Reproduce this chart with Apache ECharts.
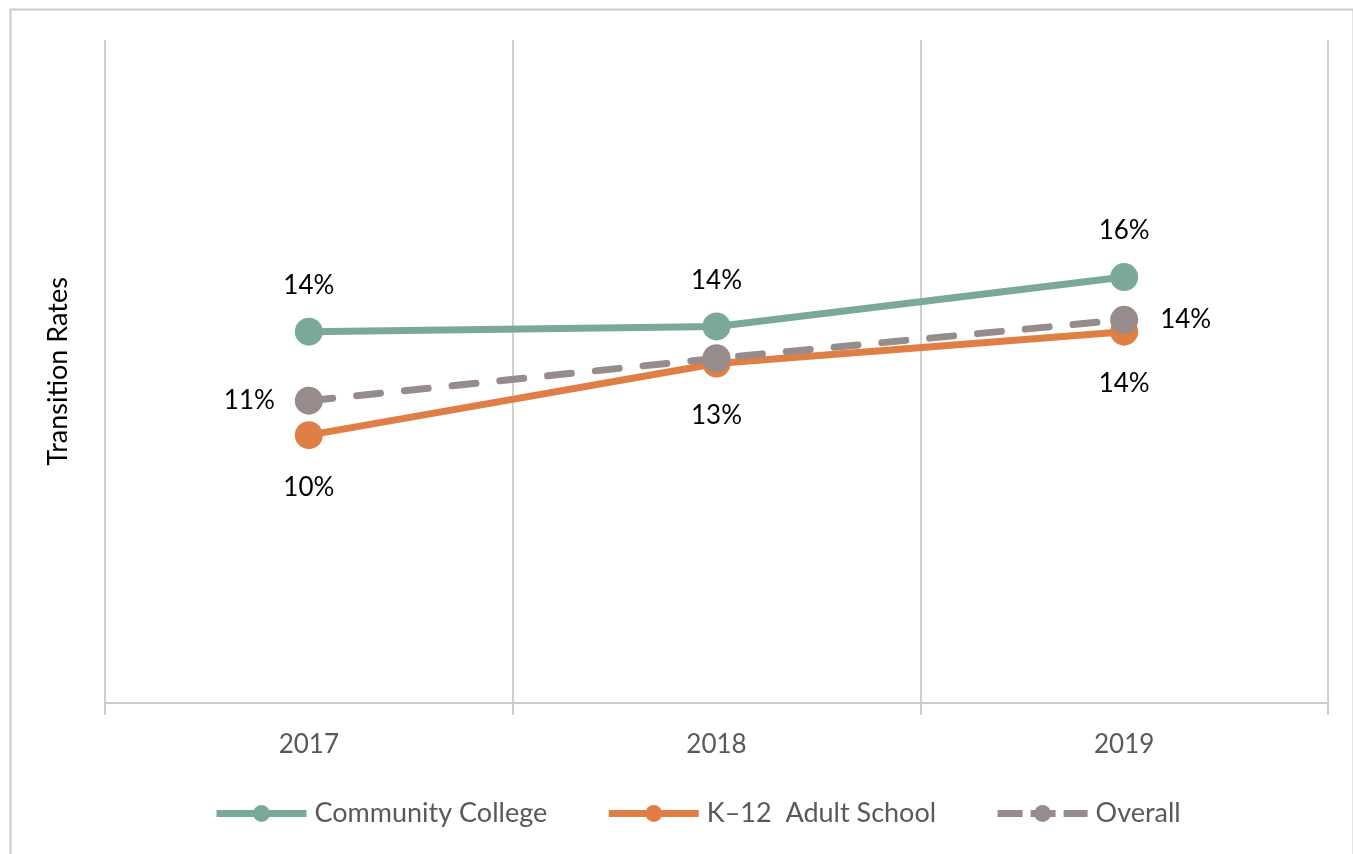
<!DOCTYPE html>
<html>
<head>
<meta charset="utf-8">
<script src="https://cdn.jsdelivr.net/npm/echarts@6/dist/echarts.min.js"></script>
<style>
html,body{margin:0;padding:0;background:#fff;}
#chart{width:1353px;height:854px;}
</style>
</head>
<body>
<div id="chart"></div>
<script>
const categories = ['2017', '2018', '2019'];
const communityCollege = [0.140, 0.142, 0.1606];
const k12AdultSchool = [0.101, 0.128, 0.140];
const overall = [0.114, 0.130, 0.1445];
const seriesNames = ['Community College', 'K\u201312  Adult School', 'Overall'];

const FONT = 'Lato, "Open Sans", sans-serif';
const pct = p => Math.round(p.value * 100) + '%';
const labelBase = {show: true, fontSize: 26, color: '#000', fontFamily: FONT, formatter: pct};

const chart = echarts.init(document.getElementById('chart'), null, {renderer: 'canvas'});
chart.setOption({
  animation: false,
  backgroundColor: '#fff',
  graphic: [{
    type: 'rect', left: 8, top: 7, z: 100, silent: true,
    shape: {width: 1343, height: 900},
    style: {fill: 'none', stroke: '#c9c9c9', lineWidth: 2}
  }],
  grid: {left: 105, right: 25, top: 40, bottom: 151, containLabel: false},
  legend: {
    left: 208, top: 795,
    itemWidth: 90, itemHeight: 21, itemGap: 58,
    textStyle: {fontSize: 27, color: '#595959', fontFamily: FONT, padding: [0, 0, 0, 3]},
    lineStyle: {width: 7},
    data: [
      {name: seriesNames[0]},
      {name: seriesNames[1]},
      {name: seriesNames[2], lineStyle: {width: 7, type: [25, 8, 25, 8, 30], cap: 'butt'}}
    ]
  },
  xAxis: {
    type: 'category', data: categories, boundaryGap: true,
    axisLine: {show: true, lineStyle: {color: '#cccccc', width: 2}},
    axisTick: {show: true, length: 12, lineStyle: {color: '#cccccc', width: 2}},
    axisLabel: {fontSize: 26, color: '#595959', fontFamily: FONT, margin: 29},
    splitLine: {show: true, lineStyle: {color: '#d0d0d0', width: 2}}
  },
  yAxis: {
    type: 'value', min: 0, max: 0.25, interval: 0.05,
    name: 'Transition Rates', nameLocation: 'middle', nameGap: 33, nameRotate: 90,
    nameTextStyle: {fontSize: 27, color: '#000', fontFamily: FONT},
    axisLine: {show: false}, axisTick: {show: false}, axisLabel: {show: false},
    splitLine: {show: false}
  },
  series: [
    {
      name: seriesNames[0], type: 'line', data: communityCollege,
      symbol: 'circle', symbolSize: 28,
      lineStyle: {color: '#7aa99c', width: 7},
      itemStyle: {color: '#7aa99c'},
      label: Object.assign({}, labelBase, {position: 'top', distance: 19})
    },
    {
      name: seriesNames[1], type: 'line', data: k12AdultSchool,
      symbol: 'circle', symbolSize: 28,
      lineStyle: {color: '#e07f45', width: 7},
      itemStyle: {color: '#e07f45'},
      label: Object.assign({}, labelBase, {position: 'bottom', distance: 25})
    },
    {
      name: seriesNames[2], type: 'line',
      data: [
        {value: overall[0], label: {position: 'left', distance: 20}},
        {value: overall[1], label: {show: false}},
        {value: overall[2], label: {position: 'right', distance: 22}}
      ],
      symbol: 'circle', symbolSize: 28,
      lineStyle: {color: '#968c8c', width: 7, type: [24, 24], cap: 'round'},
      itemStyle: {color: '#968c8c'},
      label: Object.assign({}, labelBase)
    }
  ]
});
</script>
</body>
</html>
